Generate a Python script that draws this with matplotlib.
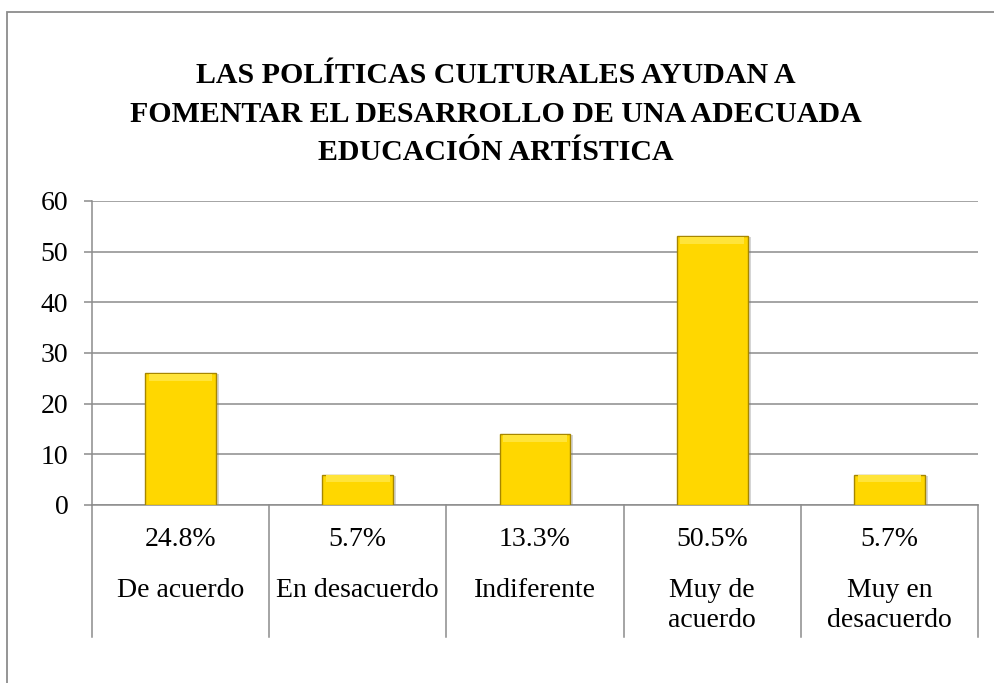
import matplotlib.pyplot as plt
from matplotlib.patches import Rectangle
from matplotlib.transforms import blended_transform_factory, offset_copy

# data
categories = ["De acuerdo", "En desacuerdo", "Indiferente", "Muy de\nacuerdo", "Muy en\ndesacuerdo"]
counts = [26, 6, 14, 53, 6]
percent_labels = ["24.8%", "5.7%", "13.3%", "50.5%", "5.7%"]
title = "LAS POLÍTICAS CULTURALES AYUDAN A\nFOMENTAR EL DESARROLLO DE UNA ADECUADA\nEDUCACIÓN ARTÍSTICA"

W, H = 995, 683
plt.rcParams['font.family'] = ['Liberation Serif', 'DejaVu Serif']
grey = '#8c8c8c'

fig = plt.figure(figsize=(W / 100, H / 100), dpi=100)

# outer chart border (clipped at the right and bottom like the source)
fig.patches.append(Rectangle((7 / W, -0.05), 1.2, (H - 12) / H + 0.05,
                             transform=fig.transFigure, fill=False,
                             edgecolor=grey, linewidth=1.3))

# axes box in pixels: x 92..978, y 201..505
left, right, top, bottom = 92, 978, 201, 505
ax = fig.add_axes([left / W, (H - bottom) / H, (right - left) / W, (bottom - top) / H])

x = list(range(len(categories)))
# soft drop shadow to the right of each bar
shadow_tr = offset_copy(ax.transData, fig=fig, x=3, y=-1, units='dots')
ax.bar(x, counts, width=0.4, color='#777777', alpha=0.3, linewidth=0,
       zorder=2, transform=shadow_tr)
ax.bar(x, counts, width=0.4, color='#FFD700', edgecolor='#A68600',
       linewidth=1.0, zorder=3)
# lighter bevel at the top of each bar
ax.bar(x, [1.4] * len(counts), bottom=[c - 1.5 for c in counts], width=0.36,
       color='#FFE43A', linewidth=0, zorder=4)

ax.set_xlim(-0.5, len(categories) - 0.5)
ax.set_ylim(0, 60)
ax.set_yticks(range(0, 61, 10))
ax.yaxis.grid(True, color=grey, linewidth=1.1, zorder=0)
ax.set_xticks([])
ax.tick_params(axis='y', labelsize=20, length=6, width=1.1, color=grey, pad=11)

for side in ['top', 'right']:
    ax.spines[side].set_visible(False)
for side in ['left', 'bottom']:
    ax.spines[side].set_color(grey)
    ax.spines[side].set_linewidth(1.1)

# table-like category area under the axis
trans = blended_transform_factory(ax.transData, ax.transAxes)
ax_h = bottom - top
sep_bottom = -(637 - bottom) / ax_h
for b in [i - 0.5 for i in range(len(categories) + 1)]:
    ax.plot([b, b], [0, sep_bottom], transform=trans, color=grey,
            linewidth=1.1, clip_on=False)

for i, (cat, pct) in enumerate(zip(categories, percent_labels)):
    ax.text(i, -(540 - bottom) / ax_h, pct, transform=trans, ha='center',
            va='center', fontsize=20)
    ax.text(i, -(578 - bottom) / ax_h, cat, transform=trans, ha='center',
            va='top', fontsize=20, linespacing=1.25)

fig.text(496 / W, 1 - 114 / H, title, ha='center', va='center',
         fontsize=21.5, fontweight='bold', linespacing=1.55)

fig.savefig('out.png', dpi=100)
